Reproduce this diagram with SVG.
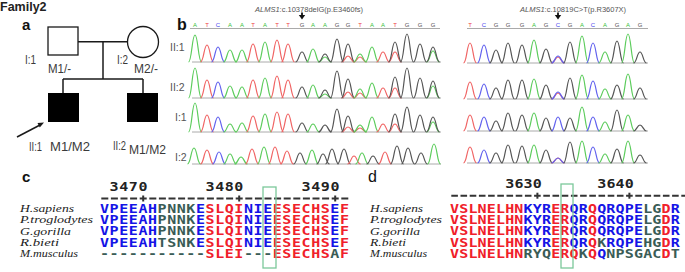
<svg xmlns="http://www.w3.org/2000/svg" width="685" height="272" viewBox="0 0 685 272">
<style>
text{font-family:"Liberation Sans",Arial,sans-serif}
.lbl{font-size:12px;fill:#3a3a3a}
.rl{font-size:10.5px;fill:#555}
.pl{stroke:#1a1a1a;stroke-width:1.5;fill:none}
.A{stroke:#5ccc5c}.T{stroke:#f06464}.C{stroke:#6262ee}.G{stroke:#555}
use{stroke-width:1.2}
.sA{fill:#3cbf3c}.sT{fill:#ee4444}.sC{fill:#4444ee}.sG{fill:#555}
.sq{font-size:6px;text-anchor:middle}
.mut{font-size:7.5px;fill:#555}
.base{stroke:#aaa;stroke-width:1}
.nm text{font-family:"Liberation Serif","Times New Roman",serif;font-style:italic;font-size:11px;fill:#222}
.aa{font-family:"DejaVu Sans Mono",monospace;font-weight:bold;font-size:12px}
.b{fill:#1414e6}.r{fill:#f0202a}.k{fill:#3a5c56}
.num{font-family:"DejaVu Sans Mono",monospace;font-weight:bold;font-size:12px;fill:#222}
.box{fill:none;stroke:#7cc89a;stroke-width:1.3}
.rul{stroke:#333;stroke-width:2}
</style>
<defs>
<path id="p" d="M-6.5,0 C-3.2,0 -3,-1 0,-1 C3,-1 3.2,0 6.5,0" fill="none" vector-effect="non-scaling-stroke"/>
</defs>

<!-- Panel a: pedigree -->
<text x="0" y="11" style="font-size:12.5px;font-weight:bold;fill:#222">Family2</text>
<text x="22" y="30" style="font-size:15px;font-weight:bold;fill:#111">a</text>
<g id="connectors-pedigree" class="pl">
<line x1="78" y1="41.7" x2="127.5" y2="41.7"/>
<line x1="103" y1="41.7" x2="103" y2="79"/>
<line x1="63" y1="79" x2="143" y2="79"/>
<line x1="63" y1="79" x2="63" y2="93"/>
<line x1="143" y1="79" x2="143" y2="93"/>
<line x1="17" y1="137" x2="40" y2="125"/>
<polygon points="44,122.5 39.8,127.5 37.5,123" fill="#1a1a1a" stroke="none"/>
</g>
<g id="I1"><rect x="48" y="27" width="30" height="28" fill="#fff" stroke="#1a1a1a" stroke-width="1.3"/>
<text class="lbl" x="25" y="64" textLength="11" lengthAdjust="spacingAndGlyphs">I:1</text><text class="lbl" x="48" y="73" textLength="23" lengthAdjust="spacingAndGlyphs">M1/-</text></g>
<g id="I2"><circle cx="143" cy="42" r="15.5" fill="#fff" stroke="#1a1a1a" stroke-width="1.3"/>
<text class="lbl" x="117" y="64" textLength="11" lengthAdjust="spacingAndGlyphs">I:2</text><text class="lbl" x="134" y="73" textLength="24" lengthAdjust="spacingAndGlyphs">M2/-</text></g>
<g id="II1"><rect x="48" y="93" width="31" height="29" fill="#000"/>
<text class="lbl" x="29" y="151" textLength="13" lengthAdjust="spacingAndGlyphs">II:1</text><text class="lbl" x="50" y="151" textLength="40" lengthAdjust="spacingAndGlyphs">M1/M2</text></g>
<g id="II2"><rect x="127" y="93" width="31" height="29" fill="#000"/>
<text class="lbl" x="113" y="150" textLength="13" lengthAdjust="spacingAndGlyphs">II:2</text><text class="lbl" x="129" y="154" textLength="37" lengthAdjust="spacingAndGlyphs">M1/M2</text></g>

<!-- Panel b: chromatograms -->
<text x="177" y="30" style="font-size:16px;font-weight:bold;fill:#111">b</text>
<text class="rl" x="170" y="51">II:1</text>
<text class="rl" x="170" y="91">II:2</text>
<text class="rl" x="175" y="121">I:1</text>
<text class="rl" x="175" y="161">I:2</text>

<text class="mut" x="255" y="11.5"><tspan font-style="italic">ALMS1</tspan>:c.10378delG(p.E3460fs)</text>
<text class="mut" x="520" y="11.5"><tspan font-style="italic">ALMS1</tspan>:c.10819C&gt;T(p.R3607X)</text>
<line x1="302" y1="12.5" x2="302" y2="16" stroke="#111" stroke-width="1.8"/>
<polygon points="298.8,15 305.2,15 302,19.5" fill="#111"/>
<line x1="558" y1="12.5" x2="558" y2="16" stroke="#111" stroke-width="1.8"/>
<polygon points="554.8,15 561.2,15 558,19.5" fill="#111"/>

<g class="sq">
<text class="sA" x="195" y="27">A</text><text class="sT" x="207" y="27">T</text><text class="sC" x="218" y="27">C</text><text class="sA" x="230" y="27">A</text><text class="sA" x="242" y="27">A</text><text class="sT" x="253" y="27">T</text><text class="sA" x="265" y="27">A</text><text class="sT" x="277" y="27">T</text><text class="sT" x="288" y="27">T</text><text class="sG" x="302" y="27">G</text><text class="sA" x="313" y="27">A</text><text class="sA" x="325" y="27">A</text><text class="sG" x="337" y="27">G</text><text class="sG" x="348" y="27">G</text><text class="sT" x="360" y="27">T</text><text class="sA" x="372" y="27">A</text><text class="sA" x="383" y="27">A</text><text class="sT" x="395" y="27">T</text><text class="sG" x="407" y="27">G</text><text class="sG" x="420" y="27">G</text><text class="sG" x="433" y="27">G</text>
<text class="sT" x="470" y="27">T</text><text class="sC" x="484" y="27">C</text><text class="sG" x="496" y="27">G</text><text class="sG" x="508" y="27">G</text><text class="sG" x="522" y="27">G</text><text class="sA" x="534" y="27">A</text><text class="sG" x="546" y="27">G</text><text class="sC" x="558" y="27">C</text><text class="sG" x="570" y="27">G</text><text class="sA" x="582" y="27">A</text><text class="sC" x="593" y="27">C</text><text class="sA" x="605" y="27">A</text><text class="sG" x="617" y="27">G</text><text class="sA" x="628" y="27">A</text><text class="sG" x="640" y="27">G</text>
</g>
<g class="base">
<line x1="190" y1="28.5" x2="440" y2="28.5"/><line x1="467" y1="28.5" x2="648" y2="28.5"/>
<line x1="192" y1="62" x2="441" y2="62"/><line x1="192" y1="98" x2="441" y2="98"/><line x1="192" y1="132" x2="441" y2="132"/><line x1="192" y1="164" x2="441" y2="164"/>
<line x1="467" y1="63" x2="648" y2="63"/><line x1="467" y1="99" x2="648" y2="99"/><line x1="467" y1="131" x2="648" y2="131"/><line x1="467" y1="163" x2="648" y2="163"/>
</g>

<g id="trace-left">
<use href="#p" class="A" transform="translate(195 62) scale(1 27)"/><use href="#p" class="T" transform="translate(207 62) scale(1 17)"/><use href="#p" class="C" transform="translate(218 62) scale(1 15)"/><use href="#p" class="A" transform="translate(230 62) scale(1 12)"/><use href="#p" class="A" transform="translate(242 62) scale(1 12)"/><use href="#p" class="T" transform="translate(253 62) scale(1 18)"/><use href="#p" class="A" transform="translate(265 62) scale(1 20)"/><use href="#p" class="T" transform="translate(277 62) scale(1 22)"/><use href="#p" class="T" transform="translate(288 62) scale(1 18)"/><use href="#p" class="G" transform="translate(302 62) scale(1 10)"/><use href="#p" class="A" transform="translate(313 62) scale(1 13)"/><use href="#p" class="A" transform="translate(325 62) scale(1 5)"/><use href="#p" class="G" transform="translate(325 62) scale(1 8)"/><use href="#p" class="G" transform="translate(337 62) scale(1 23)"/><use href="#p" class="T" transform="translate(348 62) scale(1 6)"/><use href="#p" class="G" transform="translate(348 62) scale(1 18)"/><use href="#p" class="T" transform="translate(360 62) scale(1 5)"/><use href="#p" class="A" transform="translate(360 62) scale(1 8)"/><use href="#p" class="A" transform="translate(372 62) scale(1 15)"/><use href="#p" class="T" transform="translate(383 62) scale(1 10)"/><use href="#p" class="T" transform="translate(395 62) scale(1 10)"/><use href="#p" class="G" transform="translate(395 62) scale(1 20)"/><use href="#p" class="G" transform="translate(407 62) scale(1 28)"/><use href="#p" class="G" transform="translate(420 62) scale(1 18)"/><use href="#p" class="A" transform="translate(433 62) scale(1 11)"/><use href="#p" class="G" transform="translate(433 62) scale(1 15)"/>

<use href="#p" class="A" transform="translate(195 98) scale(1 30)"/><use href="#p" class="T" transform="translate(207 98) scale(1 18)"/><use href="#p" class="C" transform="translate(218 98) scale(1 16)"/><use href="#p" class="A" transform="translate(230 98) scale(1 12)"/><use href="#p" class="A" transform="translate(242 98) scale(1 11)"/><use href="#p" class="T" transform="translate(253 98) scale(1 18)"/><use href="#p" class="A" transform="translate(265 98) scale(1 20)"/><use href="#p" class="T" transform="translate(277 98) scale(1 22)"/><use href="#p" class="T" transform="translate(288 98) scale(1 18)"/><use href="#p" class="G" transform="translate(302 98) scale(1 11)"/><use href="#p" class="A" transform="translate(313 98) scale(1 13)"/><use href="#p" class="A" transform="translate(325 98) scale(1 4)"/><use href="#p" class="G" transform="translate(325 98) scale(1 8)"/><use href="#p" class="G" transform="translate(337 98) scale(1 27)"/><use href="#p" class="T" transform="translate(348 98) scale(1 6)"/><use href="#p" class="G" transform="translate(348 98) scale(1 19)"/><use href="#p" class="T" transform="translate(360 98) scale(1 5)"/><use href="#p" class="A" transform="translate(360 98) scale(1 9)"/><use href="#p" class="A" transform="translate(372 98) scale(1 15)"/><use href="#p" class="T" transform="translate(383 98) scale(1 10)"/><use href="#p" class="T" transform="translate(395 98) scale(1 10)"/><use href="#p" class="G" transform="translate(395 98) scale(1 21)"/><use href="#p" class="G" transform="translate(407 98) scale(1 30)"/><use href="#p" class="G" transform="translate(420 98) scale(1 20)"/><use href="#p" class="A" transform="translate(433 98) scale(1 12)"/><use href="#p" class="G" transform="translate(433 98) scale(1 17)"/>

<use href="#p" class="A" transform="translate(195 132) scale(1 29)"/><use href="#p" class="T" transform="translate(207 132) scale(1 17)"/><use href="#p" class="C" transform="translate(218 132) scale(1 15)"/><use href="#p" class="A" transform="translate(230 132) scale(1 8)"/><use href="#p" class="A" transform="translate(242 132) scale(1 9)"/><use href="#p" class="T" transform="translate(253 132) scale(1 16)"/><use href="#p" class="A" transform="translate(265 132) scale(1 18)"/><use href="#p" class="T" transform="translate(277 132) scale(1 20)"/><use href="#p" class="T" transform="translate(288 132) scale(1 18)"/><use href="#p" class="G" transform="translate(302 132) scale(1 9)"/><use href="#p" class="A" transform="translate(313 132) scale(1 8)"/><use href="#p" class="G" transform="translate(325 132) scale(1 7)"/><use href="#p" class="G" transform="translate(337 132) scale(1 23)"/><use href="#p" class="T" transform="translate(348 132) scale(1 5)"/><use href="#p" class="G" transform="translate(348 132) scale(1 16)"/><use href="#p" class="T" transform="translate(360 132) scale(1 4)"/><use href="#p" class="A" transform="translate(360 132) scale(1 7)"/><use href="#p" class="A" transform="translate(372 132) scale(1 15)"/><use href="#p" class="T" transform="translate(383 132) scale(1 8)"/><use href="#p" class="T" transform="translate(395 132) scale(1 8)"/><use href="#p" class="G" transform="translate(395 132) scale(1 18)"/><use href="#p" class="G" transform="translate(407 132) scale(1 25)"/><use href="#p" class="G" transform="translate(420 132) scale(1 17)"/><use href="#p" class="A" transform="translate(433 132) scale(1 10)"/><use href="#p" class="G" transform="translate(433 132) scale(1 15)"/>

<use href="#p" class="A" transform="translate(194 164) scale(1 16)"/><use href="#p" class="T" transform="translate(207 164) scale(1 14)"/><use href="#p" class="C" transform="translate(219 164) scale(1 12)"/><use href="#p" class="A" transform="translate(230 164) scale(1 10)"/><use href="#p" class="A" transform="translate(241 164) scale(1 7)"/><use href="#p" class="T" transform="translate(252 164) scale(1 15)"/><use href="#p" class="A" transform="translate(264 164) scale(1 17)"/><use href="#p" class="T" transform="translate(275 164) scale(1 17)"/><use href="#p" class="T" transform="translate(287 164) scale(1 13)"/><use href="#p" class="G" transform="translate(300 164) scale(1 11)"/><use href="#p" class="A" transform="translate(312 164) scale(1 14)"/><use href="#p" class="G" transform="translate(323 164) scale(1 10)"/><use href="#p" class="G" transform="translate(332 164) scale(1 15)"/><use href="#p" class="G" transform="translate(344 164) scale(1 15)"/><use href="#p" class="T" transform="translate(354 164) scale(1 8)"/><use href="#p" class="A" transform="translate(362 164) scale(1 11)"/><use href="#p" class="G" transform="translate(373 164) scale(1 8)"/><use href="#p" class="T" transform="translate(385 164) scale(1 12)"/><use href="#p" class="G" transform="translate(397 164) scale(1 18)"/><use href="#p" class="G" transform="translate(408 164) scale(1 16)"/><use href="#p" class="G" transform="translate(421 164) scale(1 11)"/><use href="#p" class="A" transform="translate(434 164) scale(1 20)"/>
</g>

<g id="trace-right">
<use href="#p" class="T" transform="translate(470 63) scale(1 20)"/><use href="#p" class="C" transform="translate(484 63) scale(1 18)"/><use href="#p" class="G" transform="translate(496 63) scale(1 13)"/><use href="#p" class="G" transform="translate(508 63) scale(1 20)"/><use href="#p" class="G" transform="translate(522 63) scale(1 18)"/><use href="#p" class="A" transform="translate(534 63) scale(1 23)"/><use href="#p" class="G" transform="translate(546 63) scale(1 14)"/><use href="#p" class="T" transform="translate(558 63) scale(1 6)"/><use href="#p" class="C" transform="translate(558 63) scale(1 7)"/><use href="#p" class="G" transform="translate(570 63) scale(1 21)"/><use href="#p" class="A" transform="translate(582 63) scale(1 27)"/><use href="#p" class="C" transform="translate(593 63) scale(1 20)"/><use href="#p" class="A" transform="translate(605 63) scale(1 11)"/><use href="#p" class="G" transform="translate(617 63) scale(1 22)"/><use href="#p" class="A" transform="translate(628 63) scale(1 29)"/><use href="#p" class="G" transform="translate(640 63) scale(1 11)"/>

<use href="#p" class="T" transform="translate(470 99) scale(1 17)"/><use href="#p" class="C" transform="translate(484 99) scale(1 15)"/><use href="#p" class="G" transform="translate(496 99) scale(1 11)"/><use href="#p" class="G" transform="translate(508 99) scale(1 19)"/><use href="#p" class="G" transform="translate(522 99) scale(1 19)"/><use href="#p" class="A" transform="translate(534 99) scale(1 20)"/><use href="#p" class="G" transform="translate(546 99) scale(1 14)"/><use href="#p" class="T" transform="translate(558 99) scale(1 6)"/><use href="#p" class="C" transform="translate(558 99) scale(1 7)"/><use href="#p" class="G" transform="translate(570 99) scale(1 21)"/><use href="#p" class="A" transform="translate(582 99) scale(1 24)"/><use href="#p" class="C" transform="translate(593 99) scale(1 18)"/><use href="#p" class="A" transform="translate(605 99) scale(1 10)"/><use href="#p" class="G" transform="translate(617 99) scale(1 14)"/><use href="#p" class="A" transform="translate(628 99) scale(1 25)"/><use href="#p" class="G" transform="translate(640 99) scale(1 11)"/>

<use href="#p" class="T" transform="translate(470 131) scale(1 16)"/><use href="#p" class="C" transform="translate(484 131) scale(1 14)"/><use href="#p" class="G" transform="translate(496 131) scale(1 10)"/><use href="#p" class="G" transform="translate(508 131) scale(1 18)"/><use href="#p" class="G" transform="translate(522 131) scale(1 16)"/><use href="#p" class="A" transform="translate(534 131) scale(1 18)"/><use href="#p" class="G" transform="translate(546 131) scale(1 13)"/><use href="#p" class="C" transform="translate(558 131) scale(1 14)"/><use href="#p" class="G" transform="translate(570 131) scale(1 13)"/><use href="#p" class="A" transform="translate(582 131) scale(1 24)"/><use href="#p" class="C" transform="translate(593 131) scale(1 14)"/><use href="#p" class="A" transform="translate(605 131) scale(1 9)"/><use href="#p" class="G" transform="translate(617 131) scale(1 21)"/><use href="#p" class="A" transform="translate(628 131) scale(1 16)"/><use href="#p" class="G" transform="translate(640 131) scale(1 6)"/>

<use href="#p" class="T" transform="translate(470 163) scale(1 16)"/><use href="#p" class="C" transform="translate(484 163) scale(1 13)"/><use href="#p" class="G" transform="translate(496 163) scale(1 10)"/><use href="#p" class="G" transform="translate(508 163) scale(1 18)"/><use href="#p" class="G" transform="translate(522 163) scale(1 17)"/><use href="#p" class="A" transform="translate(534 163) scale(1 18)"/><use href="#p" class="G" transform="translate(546 163) scale(1 13)"/><use href="#p" class="T" transform="translate(558 163) scale(1 5)"/><use href="#p" class="C" transform="translate(558 163) scale(1 5)"/><use href="#p" class="G" transform="translate(570 163) scale(1 21)"/><use href="#p" class="A" transform="translate(582 163) scale(1 22)"/><use href="#p" class="C" transform="translate(593 163) scale(1 16)"/><use href="#p" class="A" transform="translate(605 163) scale(1 9)"/><use href="#p" class="G" transform="translate(617 163) scale(1 14)"/><use href="#p" class="A" transform="translate(628 163) scale(1 22)"/><use href="#p" class="G" transform="translate(640 163) scale(1 8)"/>
</g>

<!-- Panel c -->
<text x="22" y="182" style="font-size:15px;font-weight:bold;fill:#111">c</text>
<g class="nm">
<text x="20" y="212" textLength="54" lengthAdjust="spacingAndGlyphs">H.sapiens</text>
<text x="20" y="223" textLength="73" lengthAdjust="spacingAndGlyphs">P.troglodytes</text>
<text x="20" y="234.5" textLength="51" lengthAdjust="spacingAndGlyphs">G.gorilla</text>
<text x="20" y="245.5" textLength="39" lengthAdjust="spacingAndGlyphs">R.bieti</text>
<text x="20" y="257" textLength="58" lengthAdjust="spacingAndGlyphs">M.musculus</text>
</g>
<line class="rul" x1="101.3" y1="198.5" x2="350" y2="198.5" stroke-dasharray="7 2.6"/>
<g class="rul"><line x1="143.2" y1="195.5" x2="143.2" y2="201.5"/><line x1="239.2" y1="195.5" x2="239.2" y2="201.5"/><line x1="335.2" y1="195.5" x2="335.2" y2="201.5"/></g>
<g transform="translate(100 0) scale(1.25 1)" style="letter-spacing:0.455px">
<text class="num" x="7.68" y="191.5">3470</text><text class="num" x="84.48" y="191.5">3480</text><text class="num" x="161.28" y="191.5">3490</text>
<text class="aa" x="0" y="213"><tspan class="b">VPEEAH</tspan><tspan class="k">PNNK</tspan><tspan class="b">E</tspan><tspan class="r">SLQI</tspan><tspan class="b">NIE</tspan><tspan class="r">ESECHS</tspan><tspan class="b">E</tspan><tspan class="r">F</tspan></text>
<text class="aa" x="0" y="224.2"><tspan class="b">VPEEAH</tspan><tspan class="k">PNNK</tspan><tspan class="b">E</tspan><tspan class="r">SLQI</tspan><tspan class="b">NIE</tspan><tspan class="r">ESECHS</tspan><tspan class="b">E</tspan><tspan class="r">F</tspan></text>
<text class="aa" x="0" y="235.4"><tspan class="b">VPEEAH</tspan><tspan class="k">PNNK</tspan><tspan class="b">E</tspan><tspan class="r">SLQI</tspan><tspan class="b">NIE</tspan><tspan class="r">ESECHS</tspan><tspan class="b">E</tspan><tspan class="r">F</tspan></text>
<text class="aa" x="0" y="246.6"><tspan class="b">VPEEAH</tspan><tspan class="k">TSNK</tspan><tspan class="b">E</tspan><tspan class="r">SLQI</tspan><tspan class="b">NIE</tspan><tspan class="r">ESECHS</tspan><tspan class="b">E</tspan><tspan class="r">F</tspan></text>
<text class="aa" x="0" y="257.8"><tspan class="k">-----------</tspan><tspan class="r">SLEI</tspan><tspan class="k">---</tspan><tspan class="r">ESECHS</tspan><tspan class="k">A</tspan><tspan class="r">F</tspan></text>
</g>
<rect class="box" x="263" y="187" width="13" height="81"/>

<!-- Panel d -->
<text x="368" y="182" style="font-size:16px;fill:#111">d</text>
<g class="nm">
<text x="370" y="212" textLength="53" lengthAdjust="spacingAndGlyphs">H.sapiens</text>
<text x="370" y="223" textLength="72" lengthAdjust="spacingAndGlyphs">P.troglodytes</text>
<text x="370" y="234.5" textLength="50" lengthAdjust="spacingAndGlyphs">G.gorilla</text>
<text x="370" y="245.5" textLength="36" lengthAdjust="spacingAndGlyphs">R.bieti</text>
<text x="370" y="257" textLength="57" lengthAdjust="spacingAndGlyphs">M.musculus</text>
</g>
<line class="rul" x1="451.3" y1="195.7" x2="685" y2="195.7" stroke-dasharray="6.6 2.6"/>
<g class="rul"><line x1="537.4" y1="192.7" x2="537.4" y2="198.7"/><line x1="629.4" y1="192.7" x2="629.4" y2="198.7"/></g>
<g transform="translate(450 0) scale(1.25 1)" style="letter-spacing:0.135px">
<text class="num" x="44.16" y="188">3630</text><text class="num" x="117.76" y="188">3640</text>
<text class="aa" x="0" y="213"><tspan class="r">VSLNELHN</tspan><tspan class="b">KYR</tspan><tspan class="r">ER</tspan><tspan class="b">QR</tspan><tspan class="r">Q</tspan><tspan class="b">QRQPE</tspan><tspan class="k">LG</tspan><tspan class="r">D</tspan><tspan class="b">R</tspan></text>
<text class="aa" x="0" y="224.2"><tspan class="r">VSLNELHN</tspan><tspan class="b">KYR</tspan><tspan class="r">ER</tspan><tspan class="b">QR</tspan><tspan class="r">Q</tspan><tspan class="b">QRQPE</tspan><tspan class="k">LG</tspan><tspan class="r">D</tspan><tspan class="b">R</tspan></text>
<text class="aa" x="0" y="235.4"><tspan class="r">VSLNELHN</tspan><tspan class="b">KYR</tspan><tspan class="r">ER</tspan><tspan class="b">QR</tspan><tspan class="r">Q</tspan><tspan class="b">QRQPE</tspan><tspan class="k">LG</tspan><tspan class="r">D</tspan><tspan class="b">R</tspan></text>
<text class="aa" x="0" y="246.6"><tspan class="r">VSLNELHN</tspan><tspan class="b">KYR</tspan><tspan class="r">ER</tspan><tspan class="b">QR</tspan><tspan class="r">Q</tspan><tspan class="k">K</tspan><tspan class="b">RQPE</tspan><tspan class="k">HG</tspan><tspan class="r">D</tspan><tspan class="b">R</tspan></text>
<text class="aa" x="0" y="257.8"><tspan class="r">VSLNELHN</tspan><tspan class="k">RYQ</tspan><tspan class="r">ERQ</tspan><tspan class="k">K</tspan><tspan class="r">Q</tspan><tspan class="b">Q</tspan><tspan class="k">NPSGAC</tspan><tspan class="r">D</tspan><tspan class="k">T</tspan></text>
</g>
<rect class="box" x="561" y="184" width="12" height="84"/>
</svg>
